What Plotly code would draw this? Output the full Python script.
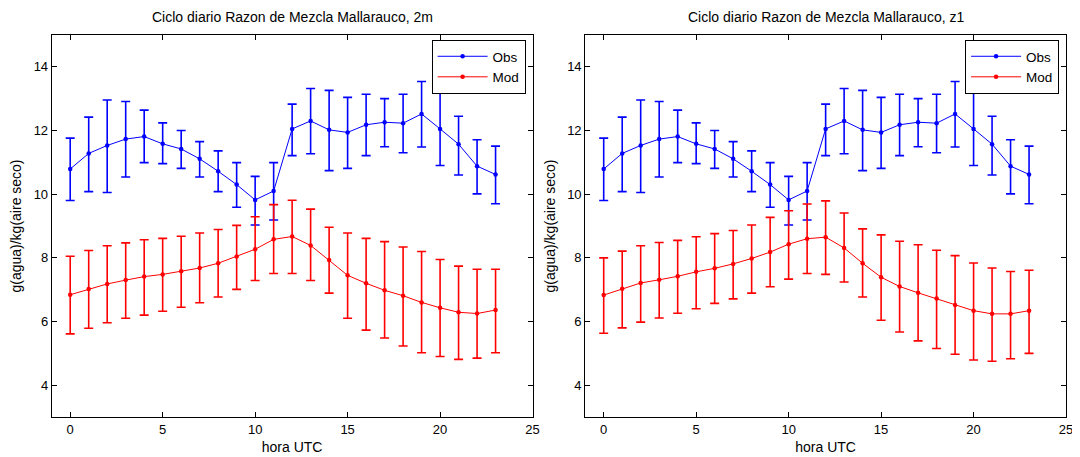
import plotly.graph_objects as go

hours = list(range(24))

# Observations (same station record in both panels)
obs_mean = [10.79, 11.28, 11.53, 11.73, 11.81, 11.58, 11.42, 11.11, 10.72, 10.30, 9.82, 10.10,
            12.05, 12.30, 12.02, 11.94, 12.18, 12.26, 12.23, 12.52, 12.05, 11.57, 10.88, 10.62]
obs_upper = [11.76, 12.42, 12.96, 12.91, 12.64, 12.24, 12.00, 11.65, 11.36, 10.99, 10.56, 10.99,
             12.83, 13.32, 13.26, 13.04, 13.14, 13.00, 13.14, 13.54, 13.23, 12.45, 11.71, 11.51]
obs_lower = [9.80, 10.08, 10.05, 10.54, 10.99, 10.96, 10.81, 10.54, 10.08, 9.59, 9.03, 9.19,
             11.21, 11.27, 10.74, 10.81, 11.21, 11.49, 11.30, 11.48, 10.90, 10.60, 10.01, 9.70]

# Model at 2m
mod2m_mean = [6.84, 7.02, 7.18, 7.30, 7.41, 7.48, 7.58, 7.68, 7.83, 8.04, 8.27, 8.58,
              8.67, 8.39, 7.93, 7.45, 7.20, 6.98, 6.81, 6.60, 6.43, 6.29, 6.25, 6.36]
mod2m_upper = [8.05, 8.23, 8.38, 8.47, 8.57, 8.61, 8.68, 8.78, 8.89, 9.02, 9.29, 9.67,
               9.81, 9.53, 8.96, 8.78, 8.61, 8.51, 8.34, 8.20, 7.95, 7.74, 7.64, 7.64]
mod2m_lower = [5.61, 5.79, 5.96, 6.10, 6.20, 6.32, 6.45, 6.59, 6.77, 7.01, 7.29, 7.51,
               7.51, 7.29, 6.89, 6.10, 5.73, 5.48, 5.23, 5.02, 4.90, 4.81, 4.85, 5.02]

# Model at z1
modz1_mean = [6.83, 7.03, 7.21, 7.31, 7.42, 7.56, 7.67, 7.81, 7.98, 8.18, 8.43, 8.60,
              8.65, 8.31, 7.83, 7.39, 7.10, 6.90, 6.72, 6.52, 6.34, 6.24, 6.24, 6.34]
modz1_upper = [8.00, 8.21, 8.38, 8.48, 8.55, 8.66, 8.76, 8.86, 9.03, 9.27, 9.48, 9.69,
               9.79, 9.41, 8.91, 8.72, 8.52, 8.41, 8.24, 8.07, 7.84, 7.68, 7.57, 7.61]
modz1_lower = [5.63, 5.80, 5.98, 6.11, 6.26, 6.40, 6.57, 6.71, 6.89, 7.09, 7.33, 7.51,
               7.48, 7.24, 6.77, 6.04, 5.67, 5.39, 5.15, 4.97, 4.79, 4.75, 4.83, 5.00]

titles = ["Ciclo diario Razon de Mezcla Mallarauco, 2m", "Ciclo diario Razon de Mezcla Mallarauco, z1"]
x_ticks = [0, 5, 10, 15, 20, 25]
y_ticks = [4, 6, 8, 10, 12, 14]
x_label = "hora UTC"
y_label = "g(agua)/kg(aire seco)"

FONT = "Liberation Sans, Arial, Helvetica, sans-serif"
BLUE = "#0000ff"
RED = "#ff0000"
# the page body adds an 8px margin, so the figure is 8px smaller than the window
OFF = 8
W, H = 1080 - OFF, 457 - OFF


def px(x):
    return (x - OFF) / W


def py(y):
    return 1 - (y - OFF) / H


def trace(mean, up, lo, name, color, xa, ya, legend):
    return go.Scatter(
        x=hours, y=mean, name=name, mode="lines+markers",
        line=dict(color=color, width=1),
        marker=dict(color=color, size=4.5),
        error_y=dict(type="data", symmetric=False,
                     array=[u - m for u, m in zip(up, mean)],
                     arrayminus=[m - l for m, l in zip(mean, lo)],
                     color=color, thickness=1.6, width=4.5),
        xaxis=xa, yaxis=ya, legend=legend,
    )


fig = go.Figure()
fig.add_trace(trace(obs_mean, obs_upper, obs_lower, "Obs", BLUE, "x", "y", "legend"))
fig.add_trace(trace(mod2m_mean, mod2m_upper, mod2m_lower, "Mod", RED, "x", "y", "legend"))
fig.add_trace(trace(obs_mean, obs_upper, obs_lower, "Obs", BLUE, "x2", "y2", "legend2"))
fig.add_trace(trace(modz1_mean, modz1_upper, modz1_lower, "Mod", RED, "x2", "y2", "legend2"))

# plot-area positions (page pixels)
left_dom = (px(52), px(536))
right_dom = (px(589), px(1073))
y_dom = (py(417), py(35))

axis_common = dict(showgrid=False, zeroline=False, showline=True, linecolor="black", linewidth=1,
                   mirror="ticks", ticks="inside", ticklen=5, tickcolor="black", tickwidth=1,
                   tickfont=dict(family=FONT, size=13, color="black"))
LABEL_FONT = dict(family=FONT, size=14, color="black")

legend_common = dict(yanchor="top", xanchor="right", y=py(40),
                     bordercolor="black", borderwidth=1, bgcolor="white",
                     font=dict(family=FONT, size=13.5), tracegroupgap=0, itemwidth=50)

fig.update_layout(
    width=W, height=H, margin=dict(l=0, r=0, t=0, b=0),
    paper_bgcolor="white", plot_bgcolor="white",
    font=dict(family=FONT, size=13, color="black"),
    xaxis=dict(domain=left_dom, range=[-1, 25], tickvals=x_ticks, anchor="y",
               title=dict(text=x_label, standoff=6, font=LABEL_FONT), **axis_common),
    yaxis=dict(domain=y_dom, range=[3, 15], tickvals=y_ticks, anchor="x",
               title=dict(text=y_label, standoff=8, font=LABEL_FONT), **axis_common),
    xaxis2=dict(domain=right_dom, range=[-1, 25], tickvals=x_ticks, anchor="y2",
                title=dict(text=x_label, standoff=6, font=LABEL_FONT), **axis_common),
    yaxis2=dict(domain=y_dom, range=[3, 15], tickvals=y_ticks, anchor="x2",
                title=dict(text=y_label, standoff=8, font=LABEL_FONT), **axis_common),
    legend=dict(x=px(529), **legend_common),
    legend2=dict(x=px(1066), **legend_common),
    annotations=[
        dict(text=titles[0], x=(left_dom[0] + left_dom[1]) / 2, y=py(17), xref="paper", yref="paper",
             showarrow=False, font=LABEL_FONT, xanchor="center", yanchor="middle"),
        dict(text=titles[1], x=(right_dom[0] + right_dom[1]) / 2, y=py(17), xref="paper", yref="paper",
             showarrow=False, font=LABEL_FONT, xanchor="center", yanchor="middle"),
    ],
)

fig.write_html("out.html")
